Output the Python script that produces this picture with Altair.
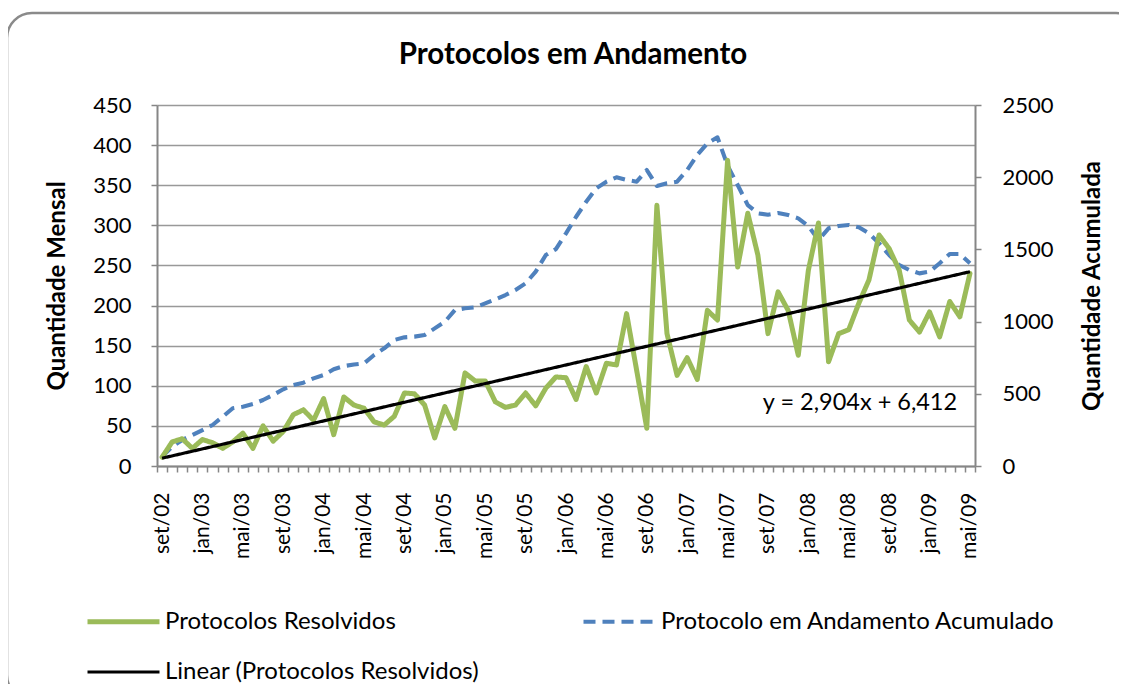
import json
import altair as alt
import pandas as pd

# ---- data -------------------------------------------------------------
month_abbr = ["jan", "fev", "mar", "abr", "mai", "jun",
              "jul", "ago", "set", "out", "nov", "dez"]
# months from set/02 to mai/09
month_labels = []
for k in range(81):
    m = (8 + k) % 12
    y = 2 + (8 + k) // 12
    month_labels.append(f"{month_abbr[m]}/{y:02d}")

resolvidos = [11, 30, 34, 22, 33, 29, 22, 30, 41, 22,
              50, 31, 43, 64, 70, 57, 84, 39, 86, 76,
              72, 55, 51, 62, 91, 90, 76, 35, 74, 47,
              116, 106, 106, 80, 73, 76, 91, 75, 97, 111,
              110, 83, 124, 91, 128, 126, 190, 119, 47, 325,
              165, 113, 135, 108, 194, 182, 381, 248, 315, 263,
              165, 217, 194, 138, 244, 303, 130, 165, 170, 203,
              232, 288, 271, 244, 182, 167, 192, 161, 205, 186,
              240]

acumulado = [64, 134, 180, 215, 249, 284, 341, 400, 411, 429,
             457, 492, 531, 561, 577, 607, 630, 670, 692, 703,
             711, 769, 815, 873, 891, 896, 907, 953, 999, 1080,
             1092, 1099, 1126, 1154, 1184, 1219, 1265, 1346, 1461, 1502,
             1611, 1726, 1830, 1923, 1969, 1999, 1981, 1969, 2050, 1939,
             1958, 1969, 2050, 2154, 2235, 2276, 2080, 1946, 1807, 1750,
             1740, 1752, 1738, 1715, 1662, 1565, 1646, 1662, 1669, 1653,
             1611, 1542, 1461, 1392, 1357, 1334, 1346, 1404, 1468, 1468,
             1404]

series_names = ["Protocolos Resolvidos",
                "Protocolo em Andamento Acumulado",
                "Linear (Protocolos Resolvidos)"]
series_colors = ["#9BBB59", "#4F81BD", "#000000"]
equation_text = "y = 2,904x + 6,412"
title_text = "Protocolos em Andamento"

df = pd.DataFrame({"idx": list(range(81)), "res": resolvidos, "acc": acumulado})

# ---- styling ----------------------------------------------------------
W, H = 818, 361
FONT = "Lato"
AXIS_GRAY = "#868686"
band = W / 81.0

color_scale = alt.Scale(domain=series_names, range=series_colors)
dash_scale = alt.Scale(domain=series_names, range=[[1, 0], [12, 7], [1, 0]])
width_scale = alt.Scale(domain=series_names, range=[5, 3.2, 1.2])

legend = alt.Legend(
    title=None, orient="none", legendX=-72, legendY=478, columns=2,
    direction="horizontal",
    symbolType="stroke", symbolSize=5184, labelFont=FONT, labelFontSize=24,
    labelColor="#000", labelLimit=0, columnPadding=95, rowPadding=-8,
    labelOffset=3, padding=0,
)

enc_common = dict(
    color=alt.Color("series:N", scale=color_scale, legend=legend, title=None),
    strokeDash=alt.StrokeDash("series:N", scale=dash_scale, legend=legend, title=None),
    strokeWidth=alt.StrokeWidth("series:N", scale=width_scale, legend=legend, title=None),
)

label_array = json.dumps(month_labels)
x_axis = alt.Axis(
    values=[i - 0.5 for i in range(82)],
    labelExpr=f"((datum.value + 0.5) % 4 == 0) ? {label_array}[datum.value + 0.5] : ''",
    labelAngle=270, labelOffset=band / 2, labelOverlap=False, labelPadding=20,
    labelFont=FONT, labelFontSize=21, labelColor="#000",
    tickSize=6, tickColor=AXIS_GRAY, tickWidth=1.5,
    domainColor=AXIS_GRAY, domainWidth=2, grid=False, title=None,
)
x_enc = alt.X("idx:Q", scale=alt.Scale(domain=[-0.5, 80.5], nice=False, zero=False), axis=x_axis)

left_axis = alt.Axis(
    orient="left", values=list(range(0, 451, 50)), grid=True,
    gridColor="#999999", gridWidth=1.5,
    labelFont=FONT, labelFontSize=22, labelColor="#000", labelPadding=20,
    tickSize=6, tickColor=AXIS_GRAY, tickWidth=1.5,
    domainColor=AXIS_GRAY, domainWidth=2,
    title="Quantidade Mensal", titleFont=FONT, titleFontSize=24,
    titleFontWeight="bold", titleColor="#000", titleAngle=270,
    titleX=-100, titleY=H / 2, titleAlign="center", titleBaseline="middle",
)
right_axis = alt.Axis(
    orient="right", values=list(range(0, 2501, 500)), grid=False, format="d",
    labelFont=FONT, labelFontSize=22, labelColor="#000", labelPadding=21,
    tickSize=6, tickColor=AXIS_GRAY, tickWidth=1.5,
    domainColor=AXIS_GRAY, domainWidth=2,
    title="Quantidade Acumulada", titleFont=FONT, titleFontSize=24,
    titleFontWeight="bold", titleColor="#000", titleAngle=270,
    titleX=117, titleY=H / 2, titleAlign="center", titleBaseline="middle",
)

base = alt.Chart(df)

green = base.transform_calculate(series=f"'{series_names[0]}'").mark_line(
    strokeJoin="round", strokeCap="round"
).encode(
    x=x_enc,
    y=alt.Y("res:Q", scale=alt.Scale(domain=[0, 450], nice=False), axis=left_axis),
    **enc_common,
)

trend = base.transform_regression("idx", "res").transform_calculate(
    series=f"'{series_names[2]}'"
).mark_line().encode(
    x=x_enc,
    y=alt.Y("res:Q", scale=alt.Scale(domain=[0, 450], nice=False), axis=left_axis),
    **enc_common,
)

eq = alt.Chart(alt.Data(values=[{"t": equation_text}])).mark_text(
    font=FONT, fontSize=23.5, color="#000", align="center", baseline="middle"
).encode(x=alt.value(703), y=alt.value(298), text="t:N")

title = alt.Chart(alt.Data(values=[{"t": title_text}])).mark_text(
    font=FONT, fontSize=29.5, fontWeight="bold", color="#000",
    align="center", baseline="alphabetic", clip=False
).encode(x=alt.value(416), y=alt.value(-41), text="t:N")

left_layer = alt.layer(green, trend, eq, title)

blue = base.transform_calculate(series=f"'{series_names[1]}'").mark_line(
    strokeJoin="round"
).encode(
    x=x_enc,
    y=alt.Y("acc:Q", scale=alt.Scale(domain=[0, 2500], nice=False), axis=right_axis),
    **enc_common,
)

frame = alt.Chart(alt.Data(values=[{"f": 1}])).mark_rect(
    filled=False, stroke="#8a8a8a", strokeWidth=2.5, cornerRadius=25, clip=False
).encode(x=alt.value(-150), x2=alt.value(984), y=alt.value(-92), y2=alt.value(595))

chart = alt.layer(frame, blue, left_layer).resolve_scale(y="independent").properties(
    width=W, height=H,
    autosize=alt.AutoSizeParams(type="none"),
    padding={"left": 149, "top": 97, "right": 144, "bottom": 218},
).configure_view(stroke=None)

chart.save("out.html", embed_options={"renderer": "svg", "actions": False})
